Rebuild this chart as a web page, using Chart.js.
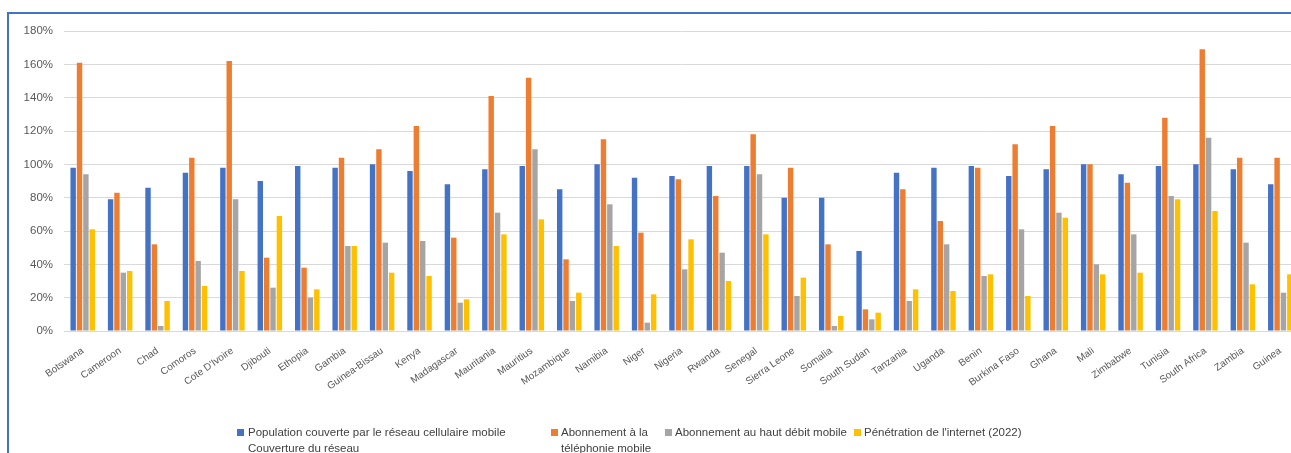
<!DOCTYPE html>
<html lang="fr">
<head>
<meta charset="utf-8">
<script src="https://cdn.jsdelivr.net/npm/chart.js@4/dist/chart.umd.min.js"></script>
<style>
  html, body { margin: 0; padding: 0; background: #ffffff; overflow: hidden; width: 1291px; height: 453px; }
  #frame { position: absolute; left: 7px; top: 12px; width: 1400px; height: 600px; border: 2px solid #4472C4; box-sizing: border-box; }
  #wrap { position: absolute; left: 0; top: 0; width: 1299px; height: 453px; }
  .legend { position: absolute; font-family: "Liberation Sans Narrow", "Liberation Sans", Arial, sans-serif; font-size: 11.5px; color: #404040; line-height: 16px; white-space: nowrap; }
  .legend .sw { position: absolute; left: 0; top: 5px; width: 7px; height: 7px; }
  .legend .tx { position: absolute; top: 0; }
</style>
</head>
<body>
<div id="frame"></div>
<div id="wrap"><canvas id="chart" width="1299" height="453"></canvas></div>
<div id="legend"></div>
<script>
// Pays couverts
const countries = ["Botswana", "Cameroon", "Chad", "Comoros", "Cote D'Ivoire", "Djibouti", "Ethopia", "Gambia",
  "Guinea-Bissau", "Kenya", "Madagascar", "Mauritania", "Mauritius", "Mozambique", "Namibia", "Niger",
  "Nigeria", "Rwanda", "Senegal", "Sierra Leone", "Somalia", "South Sudan", "Tanzania", "Uganda",
  "Benin", "Burkina Faso", "Ghana", "Mali", "Zimbabwe", "Tunisia", "South Africa", "Zambia", "Guinea"];

// Population couverte par le réseau cellulaire mobile (%)
const coverage = [98, 79, 86, 95, 98, 90, 99, 98, 100, 96, 88, 97, 99, 85, 100, 92,
  93, 99, 99, 80, 80, 48, 95, 98, 99, 93, 97, 100, 94, 99, 100, 97, 88];

// Abonnement à la téléphonie mobile (%)
const mobileSubs = [161, 83, 52, 104, 162, 44, 38, 104, 109, 123, 56, 141, 152, 43, 115, 59,
  91, 81, 118, 98, 52, 13, 85, 66, 98, 112, 123, 100, 89, 128, 169, 104, 104];

// Abonnement au haut débit mobile (%)
const broadband = [94, 35, 3, 42, 79, 26, 20, 51, 53, 54, 17, 71, 109, 18, 76, 5,
  37, 47, 94, 21, 3, 7, 18, 52, 33, 61, 71, 40, 58, 81, 116, 53, 23];

// Pénétration de l'internet (2022) (%)
const internet = [61, 36, 18, 27, 36, 69, 25, 51, 35, 33, 19, 58, 67, 23, 51, 22,
  55, 30, 58, 32, 9, 11, 25, 24, 34, 21, 68, 34, 35, 79, 72, 28, 34];

const seriesLabels = [
  ["Population couverte par le réseau cellulaire mobile", "Couverture du réseau"],
  ["Abonnement à la", "téléphonie mobile"],
  ["Abonnement au haut débit mobile"],
  ["Pénétration de l'internet (2022)"]
];
const seriesColors = ["#4472C4", "#ED7D31", "#A5A5A5", "#FFC000"];
const seriesData = [coverage, mobileSubs, broadband, internet];

// Axe des ordonnées
const yMax = 180;
const yStep = 20;

const datasets = seriesData.map((d, i) => ({
  label: seriesLabels[i].join(" "),
  data: d,
  backgroundColor: seriesColors[i],
  borderWidth: 0,
  categoryPercentage: 0.68,
  barPercentage: 0.85
}));

new Chart(document.getElementById("chart"), {
  type: "bar",
  data: { labels: countries, datasets },
  options: {
    responsive: false,
    devicePixelRatio: 1,
    animation: false,
    layout: { padding: { left: 0, top: 31, right: 0, bottom: 0 } },
    plugins: { legend: { display: false }, tooltip: { enabled: false } },
    scales: {
      x: {
        grid: { display: false },
        border: { display: false },
        ticks: {
          autoSkip: false,
          minRotation: 35,
          maxRotation: 35,
          padding: 6,
          color: "#595959",
          font: { family: "Liberation Sans, Arial, sans-serif", size: 10 }
        },
        afterFit(scale) { scale.height = 122; }
      },
      y: {
        min: 0,
        max: yMax,
        border: { display: false },
        grid: { color: "#D9D9D9", lineWidth: 1, drawTicks: false },
        ticks: {
          stepSize: yStep,
          padding: 11,
          color: "#595959",
          font: { family: "Liberation Sans, Arial, sans-serif", size: 11.5 },
          callback: v => v + "%"
        },
        afterFit(scale) { scale.width = 64; }
      }
    }
  }
});

// Légende
const legendPos = [ {x: 237, y: 424}, {x: 551, y: 424}, {x: 665, y: 424}, {x: 854, y: 424} ];
const legendEl = document.getElementById("legend");
seriesLabels.forEach((lines, i) => {
  const item = document.createElement("div");
  item.className = "legend";
  item.style.left = legendPos[i].x + "px";
  item.style.top = legendPos[i].y + "px";
  const sw = document.createElement("div");
  sw.className = "sw";
  sw.style.background = seriesColors[i];
  item.appendChild(sw);
  const tx = document.createElement("div");
  tx.className = "tx";
  tx.style.left = (i === 0 ? 11 : 10) + "px";
  tx.innerHTML = lines.map(l => l.replace(/&/g, "&amp;").replace(/</g, "&lt;")).join("<br>");
  item.appendChild(tx);
  legendEl.appendChild(item);
});
</script>
</body>
</html>
